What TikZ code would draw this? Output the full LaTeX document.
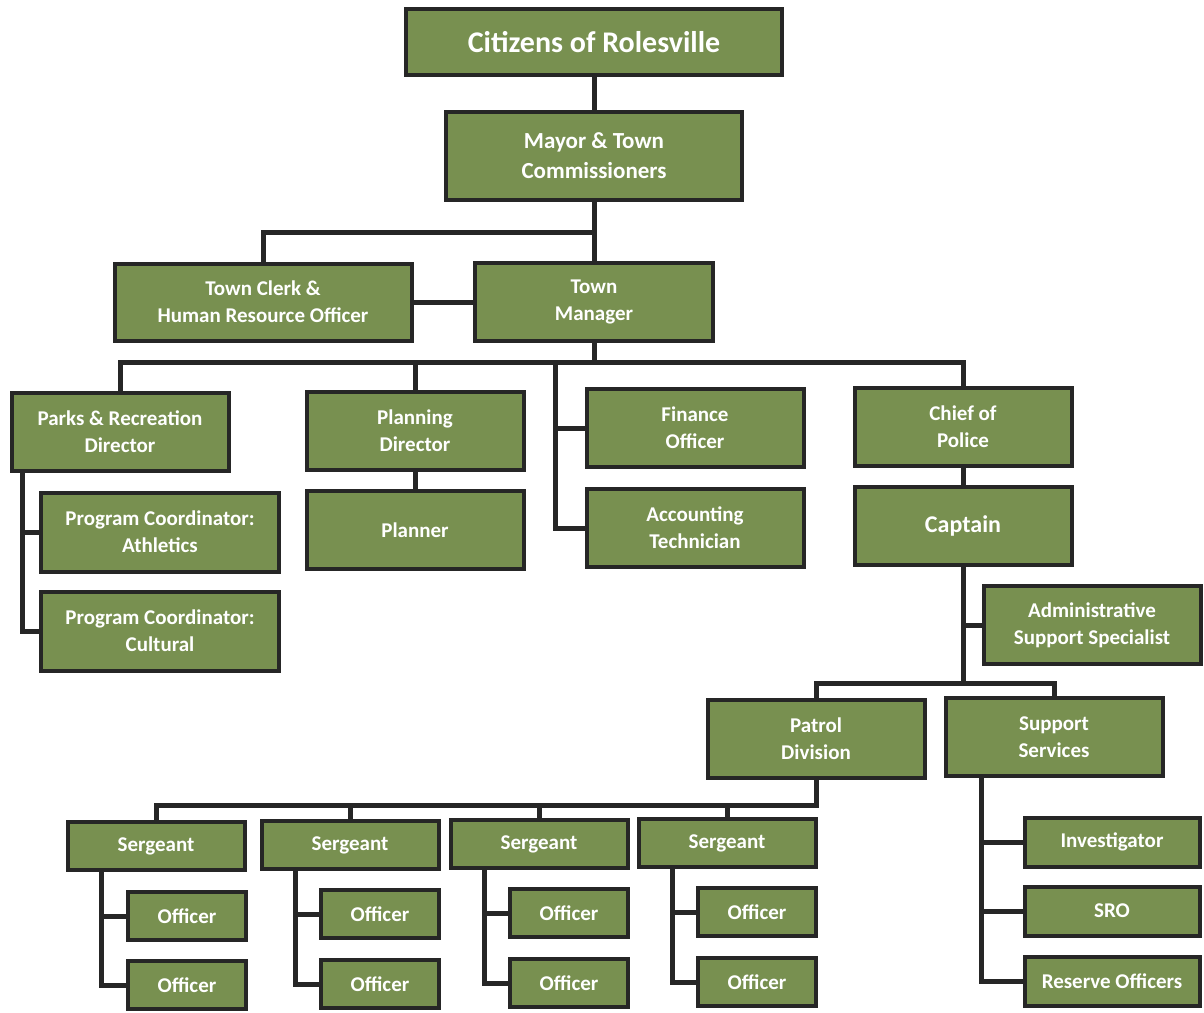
\documentclass[tikz,border=0pt]{standalone}
\usepackage{fontspec}
\setmainfont{Carlito}
\usetikzlibrary{positioning}
\definecolor{chartgreen}{RGB}{120,144,80}
\definecolor{boxline}{RGB}{38,38,38}

\begin{document}
\begin{tikzpicture}[x=1pt,y=-1pt,
  box/.style={draw=boxline, fill=chartgreen, line width=4pt, text=white, align=center,
    inner sep=0pt, font=\bfseries\fontsize{21}{27}\selectfont},
  wide/.style={minimum width=217, minimum height=78},
  small/.style={minimum width=118, minimum height=48},
  link/.style={draw=boxline, line width=5pt, line cap=rect}]

  \fill[white] (0,0) rectangle (1204,1012);
  \useasboundingbox (0,0) rectangle (1204,1012);

  \node[box, minimum width=376, minimum height=66, font=\bfseries\fontsize{30}{36}\selectfont]
    (cit) at (594,42) {Citizens of Rolesville};
  \node[box, minimum width=296, minimum height=88, font=\bfseries\fontsize{23}{30}\selectfont]
    (mayor) at (594,156) {Mayor \& Town\\Commissioners};
  \node[box, minimum width=297, minimum height=77] (clerk) at (263,302) {Town Clerk \&\\Human Resource Officer};
  \node[box, minimum width=238, minimum height=78] (tm) at (594,302) {Town\\Manager};

  \node[box, wide] (parks)    at (120,432) {Parks \& Recreation\\Director};
  \node[box, wide] (planning) at (415,431) {Planning\\Director};
  \node[box, wide] (finance)  at (695,428) {Finance\\Officer};
  \node[box, wide] (chief)    at (963,427) {Chief of\\Police};

  \node[box, minimum width=238, minimum height=79] (athl) at (160,532) {Program Coordinator:\\Athletics};
  \node[box, minimum width=238, minimum height=79] (cult) at (160,631) {Program Coordinator:\\Cultural};
  \node[box, wide] (planner) at (415,530) {Planner};
  \node[box, wide] (acct)    at (695,528) {Accounting\\Technician};
  \node[box, wide, font=\bfseries\fontsize{24}{30}\selectfont] (captain) at (963,526) {Captain};
  \node[box, wide] (admin)   at (1092,625) {Administrative\\Support Specialist};

  \node[box, wide] (patrol)  at (816,739) {Patrol\\Division};
  \node[box, wide] (support) at (1054,737) {Support\\Services};

  \node[box, minimum width=177, minimum height=48] (s1) at (156,846) {Sergeant};
  \node[box, minimum width=177, minimum height=48] (s2) at (350,845) {Sergeant};
  \node[box, minimum width=177, minimum height=48] (s3) at (539,844) {Sergeant};
  \node[box, minimum width=177, minimum height=48] (s4) at (727,843) {Sergeant};

  \node[box, small] (o1a) at (187,916) {Officer};
  \node[box, small] (o2a) at (380,914) {Officer};
  \node[box, small] (o3a) at (569,913) {Officer};
  \node[box, small] (o4a) at (757,912) {Officer};
  \node[box, small] (o1b) at (187,985) {Officer};
  \node[box, small] (o2b) at (380,984) {Officer};
  \node[box, small] (o3b) at (569,983) {Officer};
  \node[box, small] (o4b) at (757,982) {Officer};

  \node[box, minimum width=175, minimum height=49] (inv) at (1112,842) {Investigator};
  \node[box, minimum width=175, minimum height=49] (sro) at (1112,911) {SRO};
  \node[box, minimum width=175, minimum height=49] (res) at (1112,981) {Reserve Officers};

  \coordinate (mbus) at (mayor.south |- 0,232);
  \coordinate (tbus) at (tm.south |- 0,362);
  \coordinate (fbus) at (555,362);
  \coordinate (pbus) at (22,474);
  \coordinate (cbus) at (963,683);
  \coordinate (dbus) at (patrol.south |- 0,805);

  \path[link]
    (cit.south) -- (mayor.north)
    (mayor.south) -- (mbus)
    (clerk.north) |- (mbus) -- (tm.north)
    (clerk.east) -- (tm.west)
    (tm.south) -- (tbus)
    (parks.north) |- (tbus) -| (chief.north)
    (planning.north) -- (planning.north |- tbus)
    (fbus) |- (acct.west)
    (finance.west) -- (finance.west -| fbus)
    (pbus) |- (cult.west)
    (athl.west) -- (athl.west -| pbus)
    (planning.south) -- (planner.north)
    (chief.south) -- (captain.north)
    (captain.south) -- (cbus)
    (admin.west) -- (admin.west -| cbus)
    (patrol.north) |- (cbus) -| (support.north)
    (patrol.south) -- (dbus)
    (s1.north) |- (dbus)
    (s2.north) -- (s2.north |- dbus)
    (s3.north) -- (s3.north |- dbus)
    (s4.north) -- (s4.north |- dbus)
    ([xshift=38]support.south west) coordinate (sbus) |- (res.west)
    (inv.west) -- (inv.west -| sbus)
    (sro.west) -- (sro.west -| sbus)
  ;

  \foreach \i in {1,...,4}
    \path[link] ([xshift=36]s\i.south west) coordinate (sl\i) |- (o\i b.west)
      (o\i a.west) -- (o\i a.west -| sl\i);

\end{tikzpicture}
\end{document}
